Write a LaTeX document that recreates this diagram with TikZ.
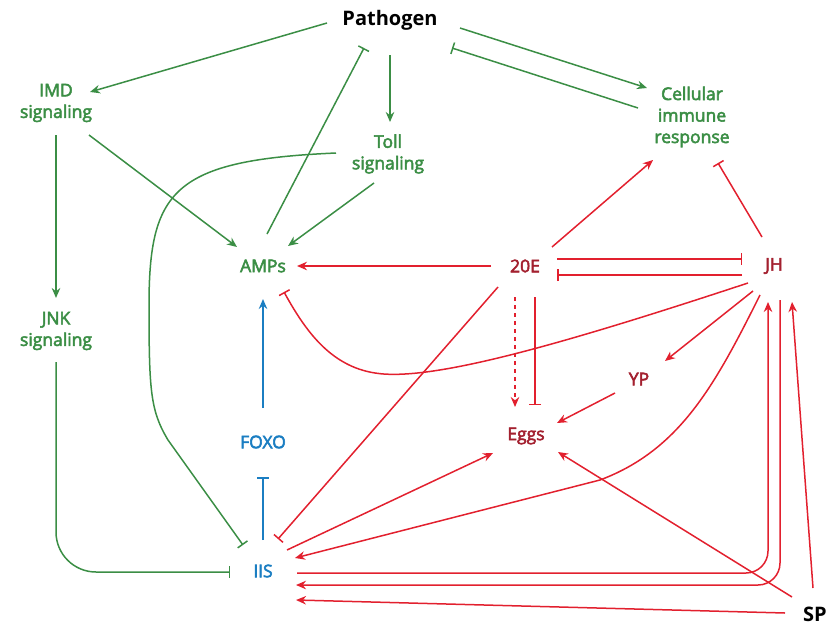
\documentclass[tikz,border=0pt]{standalone}
\usepackage{fontspec}
\setmainfont{Open Sans}
\newfontfamily\semib[FakeBold=3]{Open Sans}
\usetikzlibrary{arrows.meta,calc}
\definecolor{gr}{HTML}{3B8E45}
\definecolor{rd}{HTML}{E2202E}
\definecolor{drd}{HTML}{A3202F}
\definecolor{bl}{HTML}{1B7EC2}
\tikzset{
  lbl/.style={inner sep=0pt, align=center, font=\semib\fontsize{17.5}{21.5}\selectfont},
  blk/.style={inner sep=0pt, align=center, font=\fontsize{20}{24}\selectfont\bfseries, text=black},
  ln/.style={line width=1.5pt},
  act/.style={ln, -{Stealth[length=10pt,width=8.5pt]}},
  inh/.style={ln, -{Bar[width=12pt,line width=1.5pt]}},
}
\begin{document}
\begin{tikzpicture}[x=1pt,y=-1pt]
\useasboundingbox (0,0) rectangle (827,629);
% nodes
\node[blk] (P) at (390,20) {Pathogen};
\node[lbl,text=gr] (IMD) at (56,103) {IMD\\signaling};
\node[lbl,text=gr] (Toll) at (388,154) {Toll\\signaling};
\node[lbl,text=gr] (Cell) at (692,117) {Cellular\\immune\\response};
\node[lbl,text=gr] (AMPs) at (263,266) {AMPs};
\node[lbl,text=drd] (E20) at (525,266) {20E};
\node[lbl,text=drd] (JH) at (774,266) {JH};
\node[lbl,text=gr] (JNK) at (56,331) {JNK\\signaling};
\node[lbl,text=drd] (YP) at (639,379) {YP};
\node[lbl,text=bl] (FOXO) at (263,442) {FOXO};
\node[lbl,text=drd] (Eggs) at (526,436) {Eggs};
\node[lbl,text=bl] (IIS) at (263,571) {IIS};
\node[blk] (SP) at (815,614) {SP};
% green
\begin{scope}[draw=gr]
\draw[act] ($(P)+(-63,3)$) -- ($(IMD)+(34,-11)$);
\draw[inh] ($(AMPs)+(4,-32)$) -- ($(P)+(-26,28)$);
\draw[act] ($(P)+(0,35)$) -- ($(Toll)+(2,-32)$);
\draw[act] ($(IMD)+(33,32)$) -- ($(AMPs)+(-26,-19)$);
\draw[act] ($(Toll)+(-14,29)$) -- ($(AMPs)+(25,-20)$);
\draw[act] ($(IMD)+(0,32)$) -- ($(JNK)+(0,-33)$);
\draw[inh] ($(Toll)+(-52,-1)$) .. controls (175,160) and (150,190) .. (149,300)
   .. controls (149,390) and (150,410) .. (168,440) -- ($(IIS)+(-20,-26)$);
\draw[inh, rounded corners=40pt] ($(JNK)+(0,31)$) |- ($(IIS)+(-33,1)$);
\draw[act] ($(P)+(70,8)$) -- ($(Cell)+(-45,-29)$);
\draw[inh] ($(Cell)+(-54,-9)$) -- ($(P)+(62,28)$);
\end{scope}
% blue
\begin{scope}[draw=bl]
\draw[act] ($(FOXO)+(0,-34)$) -- ($(AMPs)+(0,33)$);
\draw[inh] ($(IIS)+(0,-31)$) -- ($(FOXO)+(0,35)$);
\end{scope}
% red
\begin{scope}[draw=rd]
\draw[act] ($(E20)+(-34,0)$) -- ($(AMPs)+(34,0)$);
\draw[act] ($(E20)+(27,-19)$) -- ($(Cell)+(-39,43)$);
\draw[inh] ($(JH)+(-12,-29)$) -- ($(Cell)+(26,46)$);
\draw[inh] ($(E20)+(32,-7)$) -- ($(JH)+(-32,-7)$);
\draw[inh] ($(JH)+(-32,9)$) -- ($(E20)+(32,9)$);
\draw[inh] ($(JH)+(-26,17)$) .. controls (560,345) and (430,382) .. (375,373)
   .. controls (330,366) and (305,330) .. ($(AMPs)+(21,26)$);
\draw[inh] ($(E20)+(-27,21)$) -- ($(IIS)+(15,-32)$);
\draw[act, dash pattern=on 4pt off 4pt] ($(E20)+(-10,31)$) -- ($(Eggs)+(-11,-29)$);
\draw[inh] ($(E20)+(10,31)$) -- ($(Eggs)+(9,-31)$);
\draw[act] ($(JH)+(-21,25)$) -- ($(YP)+(26,-18)$);
\draw[act] ($(YP)+(-24,14)$) -- ($(Eggs)+(31,-13)$);
\draw[act] ($(IIS)+(24,-21)$) -- ($(Eggs)+(-33,17)$);
\draw[act] ($(JH)+(-14,29)$) .. controls (715,385) and (680,450) .. (600,480) -- ($(IIS)+(32,-13)$);
\draw[act] ($(SP)+(-23,-17)$) -- ($(Eggs)+(32,16)$);
\draw[act] ($(SP)+(-2,-26)$) -- ($(JH)+(18,36)$);
\draw[act, rounded corners=22pt] ($(IIS)+(34,2)$) -| ($(JH)+(-6,36)$);
\draw[act, rounded corners=22pt] ($(JH)+(6,34)$) |- ($(IIS)+(33,14)$);
\draw[act] ($(SP)+(-30,-1)$) -- ($(IIS)+(33,29)$);
\end{scope}
\end{tikzpicture}
\end{document}
